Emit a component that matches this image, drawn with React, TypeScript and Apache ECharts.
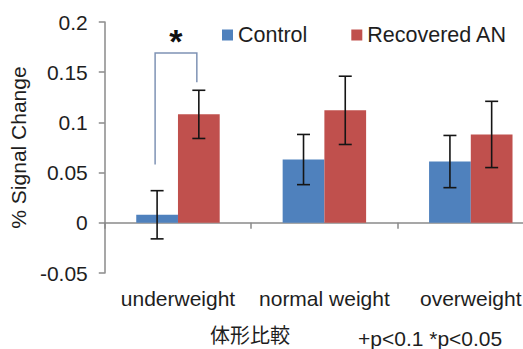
import React, { useEffect, useRef } from "react";
import * as echarts from "echarts";

const categories = ["underweight", "normal weight", "overweight"];
const seriesNames = ["Control", "Recovered AN"];
const controlMean = [0.008, 0.063, 0.061];
const controlErr = [0.024, 0.025, 0.026];
const recoveredMean = [0.108, 0.112, 0.088];
const recoveredErr = [0.024, 0.034, 0.033];
const yMin = -0.05;
const yMax = 0.2;
const yInterval = 0.05;
// significance bracket for underweight: [category, left foot, top, right foot, star]
const bracketData = [[0, 0.058, 0.169, 0.14, 0.185]];
const bottomNote = "+p<0.1 *p<0.05";
const xTitle = "体形比較";
const yTitle = "% Signal Change";

const FONT = "'Liberation Sans', Arial, sans-serif";
const BLUE = "#4f81bd";
const RED = "#c0504d";
const AXIS = "#8a8a8a";
const TEXT = "#1e1e1e";
const GAP = 0.43;

function errorRender(sign: number) {
  return (params: any, api: any) => {
    const cat = api.value(0);
    const lo = api.value(1);
    const hi = api.value(2);
    const catW = api.size([1, 0])[0];
    const barW = (catW * (1 - GAP)) / 2;
    const top = api.coord([cat, hi]);
    const bot = api.coord([cat, lo]);
    const x = top[0] + (sign * barW) / 2;
    const cap = 6.5;
    const style = { stroke: "#151515", lineWidth: 1.6 };
    return {
      type: "group",
      children: [
        { type: "line", shape: { x1: x, y1: top[1], x2: x, y2: bot[1] }, style },
        { type: "line", shape: { x1: x - cap, y1: top[1], x2: x + cap, y2: top[1] }, style },
        { type: "line", shape: { x1: x - cap, y1: bot[1], x2: x + cap, y2: bot[1] }, style },
      ],
    };
  };
}

function bracketRender(params: any, api: any) {
  const cat = api.value(0);
  const catW = api.size([1, 0])[0];
  const barW = (catW * (1 - GAP)) / 2;
  const c = api.coord([cat, 0]);
  const xl = c[0] - barW / 2 - 2;
  const xr = c[0] + barW / 2 - 2;
  const y1 = api.coord([cat, api.value(1)])[1];
  const y2 = api.coord([cat, api.value(2)])[1];
  const y3 = api.coord([cat, api.value(3)])[1];
  const ys = api.coord([cat, api.value(4)])[1];
  return {
    type: "group",
    children: [
      {
        type: "polyline",
        shape: { points: [[xl, y1], [xl, y2], [xr, y2], [xr, y3]] },
        style: { stroke: "#7f93b5", lineWidth: 1.5, fill: "none" },
      },
      {
        type: "text",
        x: (xl + xr) / 2,
        y: ys + 4,
        style: {
          text: "*",
          fill: "#111",
          font: `bold 34px ${FONT}`,
          align: "center",
          verticalAlign: "middle",
        },
      },
    ],
  };
}

export default function App() {
  const ref = useRef<HTMLDivElement>(null);
  useEffect(() => {
    const chart = echarts.init(ref.current!, null, { renderer: "svg" });
    chart.setOption({
      animation: false,
      backgroundColor: "#ffffff",
      grid: { left: 100, top: 22, right: 0, bottom: 76 },
      legend: {
        data: seriesNames,
        left: 222,
        top: 24,
        padding: 0,
        icon: "rect",
        itemWidth: 11,
        itemHeight: 11,
        itemGap: 44,
        textStyle: { fontSize: 21.5, color: TEXT, fontFamily: FONT },
      },
      xAxis: [
        {
          type: "category",
          data: categories,
          position: "bottom",
          axisLine: { onZero: true, lineStyle: { color: AXIS, width: 1.5 } },
          axisTick: { show: true, length: 6, lineStyle: { color: AXIS, width: 1.5 } },
          axisLabel: { show: false },
          splitLine: { show: false },
        },
        {
          type: "category",
          data: categories,
          position: "bottom",
          axisLine: { show: false, onZero: false },
          axisTick: { show: false },
          axisLabel: {
            show: true,
            interval: 0,
            hideOverlap: false,
            margin: 15,
            fontSize: 21,
            color: TEXT,
            fontFamily: FONT,
          },
          splitLine: { show: false },
        },
      ],
      yAxis: {
        type: "value",
        min: yMin,
        max: yMax,
        interval: yInterval,
        name: yTitle,
        nameLocation: "middle",
        nameRotate: 90,
        nameGap: 54,
        nameTextStyle: { fontSize: 21, color: TEXT, fontFamily: FONT },
        axisLine: { show: true, lineStyle: { color: AXIS, width: 1.5 } },
        axisTick: { show: true, length: 6, lineStyle: { color: AXIS, width: 1.5 } },
        axisLabel: {
          margin: 17,
          fontSize: 21,
          color: TEXT,
          fontFamily: FONT,
          formatter: (v: number) => String(Math.round(v * 100) / 100),
        },
        splitLine: { show: false },
      },
      graphic: [
        {
          type: "text",
          x: 250,
          y: 334,
          style: {
            text: xTitle,
            font: `20px 'Noto Sans CJK JP', sans-serif`,
            lineHeight: 20,
            fill: TEXT,
            align: "center",
            verticalAlign: "middle",
          },
        },
        {
          type: "text",
          x: 358,
          y: 338,
          style: {
            text: bottomNote,
            font: `21px ${FONT}`,
            lineHeight: 22,
            fill: TEXT,
            align: "left",
            verticalAlign: "middle",
          },
        },
      ],
      series: [
        {
          name: seriesNames[0],
          type: "bar",
          data: controlMean,
          barGap: "0%",
          barCategoryGap: GAP * 100 + "%",
          itemStyle: { color: BLUE },
        },
        {
          name: seriesNames[1],
          type: "bar",
          data: recoveredMean,
          barGap: "0%",
          barCategoryGap: GAP * 100 + "%",
          itemStyle: { color: RED },
        },
        {
          type: "custom",
          renderItem: errorRender(-1),
          encode: { x: 0, y: [1, 2] },
          data: controlMean.map((m, i) => [i, m - controlErr[i], m + controlErr[i]]),
          z: 10,
        },
        {
          type: "custom",
          renderItem: errorRender(1),
          encode: { x: 0, y: [1, 2] },
          data: recoveredMean.map((m, i) => [i, m - recoveredErr[i], m + recoveredErr[i]]),
          z: 10,
        },
        {
          type: "custom",
          renderItem: bracketRender,
          encode: { x: 0, y: [1, 2, 3, 4] },
          data: bracketData,
          z: 10,
        },
      ],
    });
    return () => chart.dispose();
  }, []);
  return (
    <div
      style={{
        position: "absolute",
        left: 0,
        top: 0,
        width: 523,
        height: 349,
        overflow: "hidden",
        background: "#fff",
      }}
    >
      <div ref={ref} style={{ width: 544, height: 349 }} />
    </div>
  );
}
